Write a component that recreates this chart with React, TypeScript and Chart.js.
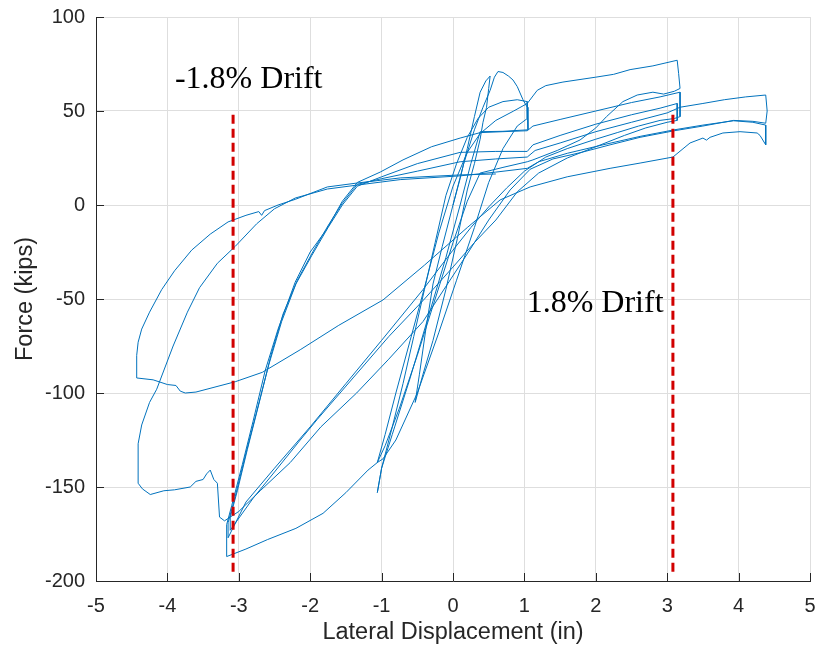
import React, { useEffect, useRef } from 'react';
import { Chart, registerables } from 'chart.js';

Chart.register(...registerables);

// ---- Data (lateral displacement in inches, force in kips) ----
// Small cycles (about ±0.5 and ±1 in)
const smallDisp = [0, 0.1, 0.2, 0.3, 0.38, 0.46, 0.52, 0.5, 0.47, 0.42, 0.38, 0.3, 0.2, 0.06, -0.1, -0.28, -0.42, -0.53,
  -0.47, -0.38, -0.28, -0.15, 0, 0.15, 0.3, 0.42, 0.52, 0.58, 0.63, 0.7, 0.78, 0.84, 0.9, 0.98, 1.04, 1.05,
  0.7, 0.38, 0.25, 0.1, -0.1, -0.35, -0.6, -0.85, -1.0, -1.06,
  -1.0, -0.85, -0.7, -0.55, -0.4, -0.25, -0.1, 0.05, 0.2, 0.35, 0.5, 0.7, 0.9, 1.04, 1.04,
  0.9, 0.7, 0.5, 0.3, 0.05, -0.2, -0.5, -0.8, -0.98, -1.06];
const smallForce = [0, 14, 30, 47, 60, 66, 68.6, 62, 52, 44, 35, 22, 8, -18, -45, -72, -90, -105,
  -90, -66, -42, -22, 0, 22, 40, 52, 61, 68, 71, 70.5, 68.5, 66.5, 63, 56, 52, 40,
  39.2, 39, 22, 0, -28, -60, -92, -122, -140, -153,
  -140, -118, -95, -70, -45, -20, 5, 22, 36, 46, 52, 55, 56, 55, 46,
  42, 30, 12, -12, -40, -68, -100, -125, -135, -137];

// First ±3.1 in cycle
const cycle1PosDisp = [-1.06, -0.95, -0.8, -0.6, -0.4, -0.2, 0.0, 0.2, 0.38, 0.6, 0.85, 1.04, 1.12, 1.18, 1.3, 1.54, 2.0, 2.25, 2.48, 2.8, 3.14, 3.16, 3.18];
const cycle1PosForce = [-137, -122, -100, -72, -44, -15, 10, 28, 38, 45, 50, 54, 58, 61, 63.5, 65.4, 68, 69.5, 72, 74, 77, 70, 62];
const cycle1NegDisp = [3.18, 3.1, 2.95, 2.8, 2.58, 2.38, 2.15, 2.0, 1.78, 1.46, 1.12, 1.04, 0.7, 0.38, 0.2, 0.0, -0.25, -0.5, -0.75, -0.95, -1.06, -1.19, -1.5, -1.82, -2.2, -2.6, -2.9, -3.17, -3.17];
const cycle1NegForce = [62, 60.5, 59, 60, 58.5, 55, 47, 41, 34.6, 29, 24, 23, 20, 17, 2, -20, -50, -80, -108, -128, -137, -141, -153, -164, -172, -178, -183, -187, -170];
const cycle1UpDisp = [-3.17, -3.1, -2.95, -2.8, -2.63, -2.45, -2.21, -2.0, -1.77, -1.55, -1.34, -1.02, -0.7, -0.3, 0.1, 0.38, 0.7, 1.04, 1.12, 1.5, 2.0, 2.5, 2.9, 3.18, 3.18];
const cycle1UpForce = [-170, -160, -138, -115, -88, -66, -41, -25, -13, 2, 12, 17.5, 24, 31, 35.6, 38.5, 39, 39.5, 42, 45.5, 50, 54.5, 57.5, 60, 47];

// Second ±3.1 in cycle
const cycle2NegDisp = [3.18, 3.1, 2.9, 2.6, 2.3, 2.0, 1.6, 1.3, 1.0, 0.75, 0.5, 0.25, 0.0, -0.42, -1.0, -1.5, -2.0, -2.5, -2.9, -3.15, -3.15];
const cycle2NegForce = [47, 46, 45, 42, 38.5, 35, 30, 25.5, 18, 9, -1, -12, -24, -45, -72, -95, -118, -140, -158, -177, -169];
const cycle2UpDisp = [-3.15, -3.05, -2.9, -2.75, -2.58, -2.4, -2.2, -1.98, -1.75, -1.55, -1.34, -1.0, -0.5, 0.1, 0.6, 1.04, 1.12, 1.5, 2.0, 2.5, 2.9, 3.14, 3.14];
const cycle2UpForce = [-169, -155, -132, -110, -85, -62, -42, -27, -12, 0, 10, 15, 22, 28, 28.5, 28.5, 32, 37, 43, 48, 51.5, 54, 45];

// Third ±3.1 in cycle, continuing to +4.4 in
const cycle3NegDisp = [3.14, 3.0, 2.7, 2.4, 2.0, 1.6, 1.2, 0.9, 0.6, 0.3, 0.0, -0.4, -0.9, -1.4, -1.9, -2.14, -2.5, -2.8, -3.12, -3.12];
const cycle3NegForce = [45, 44, 41, 37, 31, 25, 17, 7, -8, -20, -33, -50, -70, -92, -114, -125, -142, -156, -173, -166];
const cycle3UpDisp = [-3.12, -3.02, -2.88, -2.72, -2.55, -2.38, -2.18, -1.95, -1.75, -1.55, -1.34, -1.0, -0.5, 0.1, 0.6, 1.04, 1.15, 1.5, 2.0, 2.5, 3.0, 3.18, 3.5, 3.8, 4.1, 4.38, 4.4, 4.38];
const cycle3UpForce = [-166, -152, -130, -106, -80, -58, -40, -24, -11, 1, 11, 14, 18, 23, 24.5, 25.5, 29, 33, 39, 44, 49, 52, 54, 56, 57.5, 58.5, 50, 43.5];

// ±4.4 in cycles
const cycle4NegDisp = [4.38, 4.2, 3.93, 3.5, 3.1, 2.62, 2.2, 1.8, 1.4, 1.08, 0.8, 0.5, 0.2, -0.18, -0.42, -0.9, -1.35, -1.85, -2.28, -2.7, -3.0, -3.2,
  -3.27, -3.3, -3.35, -3.4, -3.45, -3.5, -3.6, -3.68, -3.9, -4.05, -4.24, -4.35, -4.41, -4.41];
const cycle4NegForce = [43.5, 44.5, 45, 42, 39.5, 36, 32, 28, 24.5, 19, 8, -8, -26, -48, -62, -82, -100, -118, -137, -152, -163, -168,
  -166, -148, -146, -141, -143, -146, -147, -150, -151.5, -152, -154, -151, -148, -127];
const cycle4UpDisp = [-4.41, -4.36, -4.25, -4.15, -3.92, -3.72, -3.55, -3.3, -3.05, -2.75, -2.5, -2.21, -1.76, -1.34, -0.74, 0.1, 0.6, 1.04, 1.2, 1.6, 2.1, 2.62, 3.1, 3.5, 3.93, 4.2, 4.38, 4.38];
const cycle4UpForce = [-127, -117, -105, -98, -75, -57, -44, -31, -22, -10, -2, 3.7, 8.5, 10.6, 13.5, 15.5, 17.5, 19.5, 23, 27.5, 32, 36.5, 40, 42.5, 44.8, 44, 42.5, 32];
const cycle5NegDisp = [4.38, 4.3, 4.26, 4.02, 3.78, 3.6, 3.55, 3.5, 3.32, 3.08, 2.62, 2.2, 1.6, 1.08, 0.66, 0.2, -0.4, -0.98, -1.6, -2.14, -2.67, -3.05, -3.6, -3.75, -3.82, -3.88, -4.0, -4.2, -4.43, -4.43, -4.41];
const cycle5NegForce = [32, 37, 38.3, 39, 38.3, 36, 34.5, 35.6, 33, 25.5, 22.3, 19.5, 15, 9.6, 2.7, -12, -32, -50.5, -64, -77, -89, -94, -99.5, -100, -99, -96, -95.5, -93, -92, -80, -73];
const cycle5UpDisp = [-4.41, -4.36, -4.25, -4.08, -3.9, -3.66, -3.4, -3.15, -2.9, -2.72, -2.68, -2.64, -2.45, -2.21, -1.76, -1.34, -0.74, 0.1, 0.6];
const cycle5UpForce = [-73, -66, -57, -45, -35, -24, -15.5, -9, -5.5, -3.5, -5.5, -3, 0, 3, 9.6, 11.7, 14.4, 16, 16.5];

// Drift markers
const driftDisp = [-3.08, 3.08];
const driftTop = 48;
const driftBottom = -196;
const driftLabels = ['-1.8% Drift', '1.8% Drift'];
const driftLabelDisp = [-3.894, 1.032];
const driftLabelForce = [62.1, -56.8];

// Axes
const xTicks = [-5, -4, -3, -2, -1, 0, 1, 2, 3, 4, 5];
const yTicks = [-200, -150, -100, -50, 0, 50, 100];

const BLUE = '#0072BD';
const RED = '#d10000';
const AXIS = '#262626';

export default function App() {
  const canvasRef = useRef<HTMLCanvasElement | null>(null);

  useEffect(() => {
    const canvas = canvasRef.current;
    if (!canvas) return;

    const segs: [number[], number[]][] = [
      [smallDisp, smallForce],
      [cycle1PosDisp, cycle1PosForce],
      [cycle1NegDisp, cycle1NegForce],
      [cycle1UpDisp, cycle1UpForce],
      [cycle2NegDisp, cycle2NegForce],
      [cycle2UpDisp, cycle2UpForce],
      [cycle3NegDisp, cycle3NegForce],
      [cycle3UpDisp, cycle3UpForce],
      [cycle4NegDisp, cycle4NegForce],
      [cycle4UpDisp, cycle4UpForce],
      [cycle5NegDisp, cycle5NegForce],
      [cycle5UpDisp, cycle5UpForce],
    ];
    const hysteresis: { x: number; y: number }[] = [];
    segs.forEach(([xs, ys]) => {
      xs.forEach((x, i) => hysteresis.push({ x, y: ys[i] }));
    });

    const driftSets = driftDisp.map((d) => ({
      label: 'drift',
      data: [{ x: d, y: driftTop }, { x: d, y: driftBottom }],
      showLine: true,
      borderColor: RED,
      borderWidth: 3,
      borderDash: [9, 5],
      pointRadius: 0,
      fill: false,
      order: 0,
    }));

    const innerTicks = {
      id: 'innerTicks',
      afterDraw(chart: any) {
        const { ctx, chartArea, scales } = chart;
        ctx.save();
        ctx.strokeStyle = AXIS;
        ctx.lineWidth = 1;
        ctx.beginPath();
        xTicks.forEach((t) => {
          const px = Math.round(scales.x.getPixelForValue(t)) + 0.5;
          ctx.moveTo(px, chartArea.bottom);
          ctx.lineTo(px, chartArea.bottom - 8);
        });
        yTicks.forEach((t) => {
          const py = Math.round(scales.y.getPixelForValue(t)) + 0.5;
          ctx.moveTo(chartArea.left, py);
          ctx.lineTo(chartArea.left + 8, py);
        });
        ctx.stroke();
        ctx.restore();
      },
    };

    const driftText = {
      id: 'driftText',
      afterDatasetsDraw(chart: any) {
        const { ctx, scales } = chart;
        ctx.save();
        ctx.fillStyle = '#000';
        ctx.font = '32px "Liberation Serif", "Times New Roman", serif';
        ctx.textAlign = 'left';
        ctx.textBaseline = 'alphabetic';
        driftLabels.forEach((txt, i) => {
          ctx.fillText(txt, scales.x.getPixelForValue(driftLabelDisp[i]), scales.y.getPixelForValue(driftLabelForce[i]));
        });
        ctx.restore();
      },
    };

    const chart = new Chart(canvas, {
      type: 'scatter',
      data: {
        datasets: [
          ...driftSets,
          {
            label: 'hysteresis',
            data: hysteresis,
            showLine: true,
            borderColor: BLUE,
            borderWidth: 1,
            pointRadius: 0,
            tension: 0,
            fill: false,
            order: 1,
          } as any,
        ],
      },
      options: {
        animation: false,
        responsive: false,
        devicePixelRatio: 1,
        layout: { padding: { top: 17, right: 9, left: 0, bottom: 0 } },
        plugins: {
          legend: { display: false },
          tooltip: { enabled: false },
        },
        scales: {
          x: {
            type: 'linear',
            min: -5,
            max: 5,
            afterBuildTicks: (scale: any) => {
              scale.ticks = xTicks.map((v) => ({ value: v }));
            },
            afterFit: (scale: any) => {
              scale.height = 70;
              scale.paddingLeft = 0;
              scale.paddingRight = 0;
            },
            ticks: {
              color: AXIS,
              padding: 13,
              font: { family: '"Liberation Sans", Arial, sans-serif', size: 20 },
              callback: (v: any) => String(v),
            },
            grid: { color: '#dedede', drawTicks: false, lineWidth: 1 },
            border: { color: AXIS, width: 1 },
            title: {
              display: true,
              text: 'Lateral Displacement (in)',
              color: AXIS,
              font: { family: '"Liberation Sans", Arial, sans-serif', size: 23.5 },
              padding: { top: 0, bottom: 4 },
            },
          },
          y: {
            type: 'linear',
            min: -200,
            max: 100,
            afterBuildTicks: (scale: any) => {
              scale.ticks = yTicks.map((v) => ({ value: v }));
            },
            afterFit: (scale: any) => {
              scale.width = 96;
              scale.paddingTop = 0;
              scale.paddingBottom = 0;
            },
            ticks: {
              color: AXIS,
              padding: 11,
              font: { family: '"Liberation Sans", Arial, sans-serif', size: 20 },
              callback: (v: any) => String(v),
            },
            grid: { color: '#dedede', drawTicks: false, lineWidth: 1 },
            border: { color: AXIS, width: 1 },
            title: {
              display: true,
              text: 'Force (kips)',
              color: AXIS,
              font: { family: '"Liberation Sans", Arial, sans-serif', size: 23.5 },
              padding: { top: 11, bottom: 0 },
            },
          },
        },
      },
      plugins: [innerTicks, driftText],
    });

    return () => chart.destroy();
  }, []);

  return (
    <div style={{ position: 'absolute', left: 0, top: 0, width: 819, height: 651, background: '#fff' }}>
      <canvas ref={canvasRef} width={819} height={651} style={{ width: 819, height: 651, display: 'block' }} />
    </div>
  );
}
